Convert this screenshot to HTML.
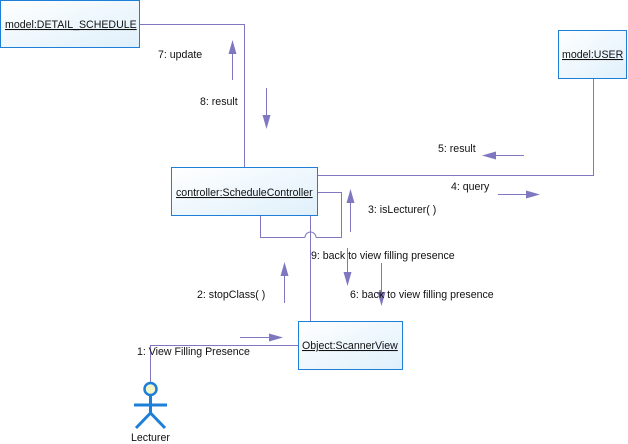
<!DOCTYPE html>
<html><head><meta charset="utf-8"><style>
html,body{margin:0;padding:0;background:#fff;width:628px;height:444px;overflow:hidden}
svg{display:block}
text{font-family:"Liberation Sans",sans-serif;font-size:10.6px;fill:#111}
</style></head><body>
<svg width="628" height="444" viewBox="0 0 628 444" xmlns="http://www.w3.org/2000/svg">
<defs>
<linearGradient id="g" x1="0" y1="0" x2="1" y2="1"><stop offset="0" stop-color="#ffffff"/><stop offset="1" stop-color="#dff0fb"/></linearGradient>
</defs>
<g fill="none" stroke="#7f78c0" stroke-width="1">
<polyline points="139,24.5 244.5,24.5 244.5,167"/>
<polyline points="317,175.5 593.5,175.5 593.5,78"/>
<polyline points="317,192.5 341.5,192.5 341.5,237.5 316,237.5"/>
<path d="M316,237.5 A5.5,5.5 0 0 0 305,237.5"/>
<polyline points="305,237.5 260.5,237.5 260.5,215"/>
<line x1="310.5" y1="215" x2="310.5" y2="321"/>
<polyline points="150.5,382 150.5,345.5 298,345.5"/>
<line x1="232.5" y1="80" x2="232.5" y2="50"/>
<line x1="266.5" y1="88" x2="266.5" y2="118"/>
<line x1="524" y1="155.5" x2="492" y2="155.5"/>
<line x1="498" y1="194.5" x2="530" y2="194.5"/>
<line x1="350.5" y1="232" x2="350.5" y2="200"/>
<line x1="347.5" y1="248" x2="347.5" y2="275"/>
<line x1="381.5" y1="263" x2="381.5" y2="296"/>
<line x1="284.5" y1="303" x2="284.5" y2="272"/>
<line x1="240" y1="337.5" x2="272" y2="337.5"/>
</g>
<g fill="#7f78c0">
<polygon points="232.5,40 228.5,54 236.5,54"/>
<polygon points="266.5,129 262.5,115 270.5,115"/>
<polygon points="482,155.5 496,151.5 496,159.5"/>
<polygon points="540,194.5 526,190.5 526,198.5"/>
<polygon points="350.5,189 346.5,203 354.5,203"/>
<polygon points="347.5,286 343.5,272 351.5,272"/>
<polygon points="381.5,306 377.5,292 385.5,292"/>
<polygon points="284.5,262 280.5,276 288.5,276"/>
<polygon points="283,337.5 269,333.5 269,341.5"/>
</g>
<g stroke="#1e7fd8" fill="url(#g)" stroke-width="1">
<rect x="0.5" y="0.5" width="139" height="47"/>
<rect x="558.5" y="30.5" width="68" height="48"/>
<rect x="171.5" y="167.5" width="146" height="48"/>
<rect x="298.5" y="321.5" width="104" height="48"/>
</g>
<text x="5" y="28" text-decoration="underline">model:DETAIL_SCHEDULE</text>
<text x="562" y="58" text-decoration="underline">model:USER</text>
<text x="176" y="196" text-decoration="underline">controller:ScheduleController</text>
<text x="302" y="349" text-decoration="underline">Object:ScannerView</text>
<text x="158" y="58">7: update</text>
<text x="200" y="105">8: result</text>
<text x="438" y="152">5: result</text>
<text x="451" y="190">4: query</text>
<text x="368" y="213">3: isLecturer( )</text>
<text x="311" y="259">9: back to view filling presence</text>
<text x="350" y="298">6: back to view filling presence</text>
<text x="197" y="298">2: stopClass( )</text>
<text x="137" y="355">1: View Filling Presence</text>
<g stroke="#1e7fd8" stroke-width="3" fill="none">
<circle cx="150.5" cy="389" r="6" fill="#f4f6c8" stroke-width="2.5"/>
<line x1="150.5" y1="395" x2="150.5" y2="414"/>
<line x1="134" y1="405" x2="167" y2="405"/>
<line x1="150.5" y1="413" x2="136" y2="428"/>
<line x1="150.5" y1="413" x2="165" y2="428"/>
</g>
<text x="131" y="441">Lecturer</text>
</svg>
</body></html>
